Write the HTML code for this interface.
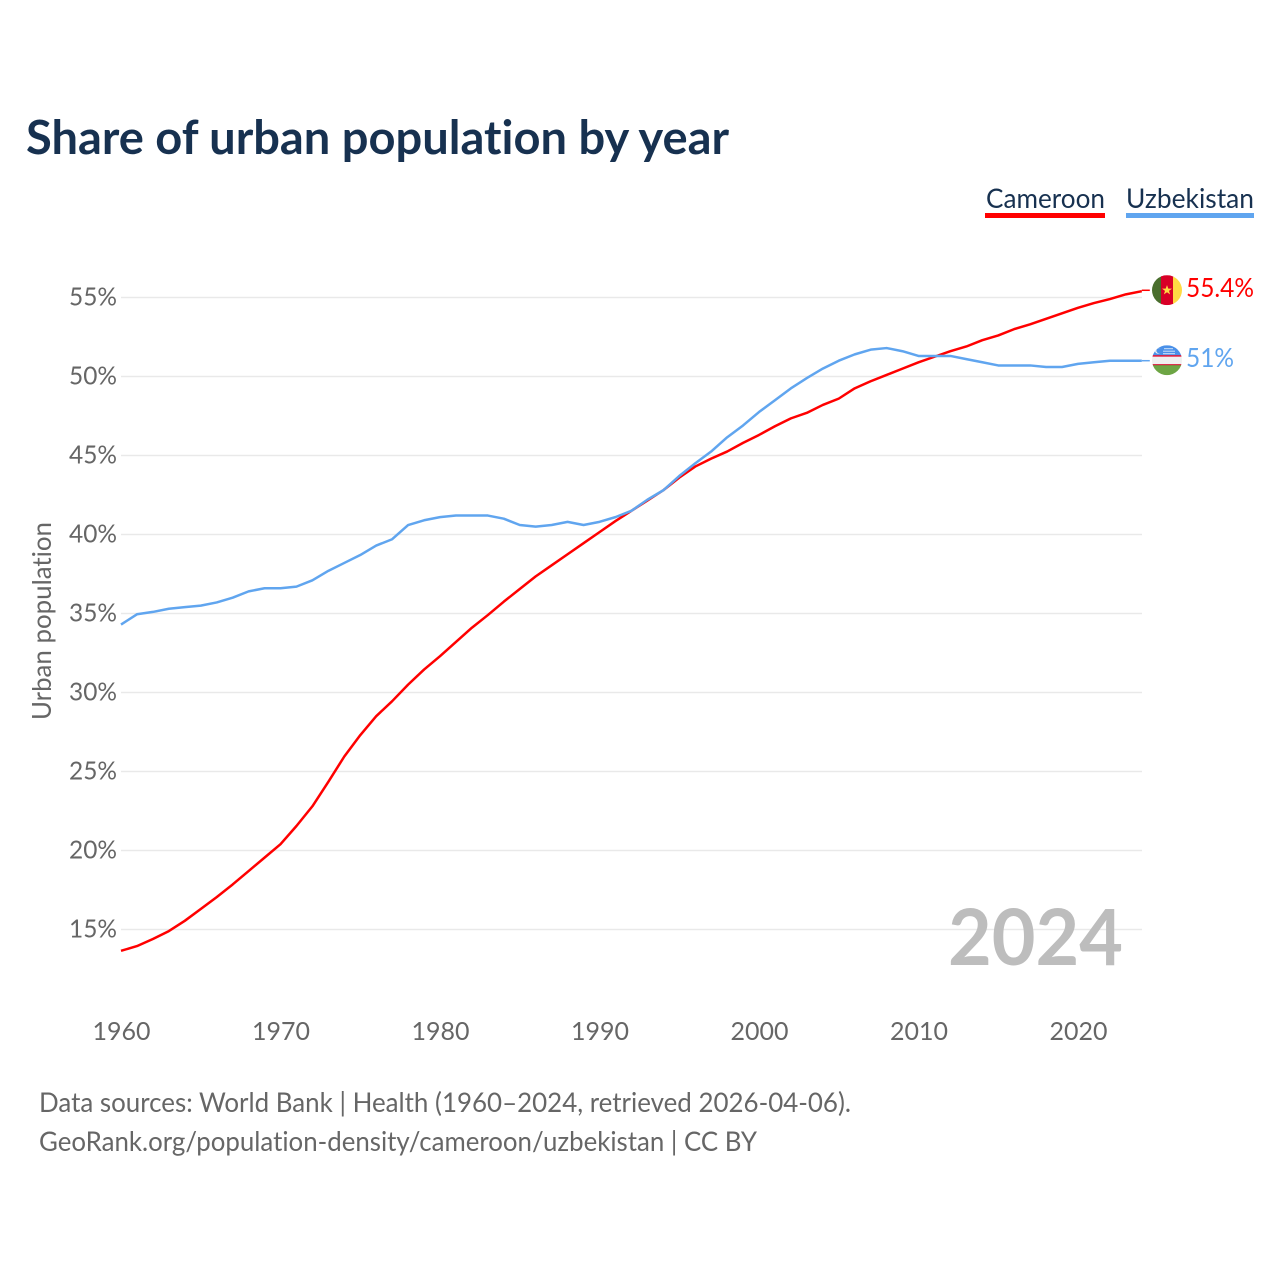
<!DOCTYPE html>
<html lang="en">
<head>
<meta charset="utf-8">
<title>Share of urban population by year</title>
<style>
html,body{margin:0;padding:0;background:#fff;}
svg{display:block;font-family:"Lato","Carlito","Liberation Sans",sans-serif;font-variant-ligatures:none;font-feature-settings:"liga" 0,"clig" 0;}
</style>
</head>
<body>
<svg id="chart" xmlns="http://www.w3.org/2000/svg" width="1280" height="1280" viewBox="0 0 1280 1280">
  <rect width="1280" height="1280" fill="#ffffff"/>
  <text x="26" y="154" font-size="47" font-weight="700" fill="#173150" textLength="703" lengthAdjust="spacingAndGlyphs">Share of urban population by year</text>

  <g>
    <text x="986" y="208" font-size="27" fill="#173150" textLength="119" lengthAdjust="spacingAndGlyphs">Cameroon</text>
    <rect x="985" y="213" width="120" height="5" fill="#ff0000"/>
  </g>
  <g>
    <text x="1126" y="208" font-size="27" fill="#173150" textLength="128" lengthAdjust="spacingAndGlyphs">Uzbekistan</text>
    <rect x="1126" y="213" width="128" height="5" fill="#60a5ef"/>
  </g>

  <g id="grid"></g>
  <g id="yticks"></g>
  <g id="xticks"></g>

  <text transform="translate(51,621) rotate(-90)" text-anchor="middle" font-size="26" fill="#666666" textLength="198" lengthAdjust="spacingAndGlyphs">Urban population</text>

  <text x="948" y="965" font-size="78" font-weight="700" fill="#bdbdbd" textLength="175" lengthAdjust="spacingAndGlyphs">2024</text>

  <g id="series"></g>

  <defs>
    <clipPath id="flag-clip"><circle cx="0" cy="0" r="15"/></clipPath>
  </defs>

  <g id="flag-cameroon">
    <g clip-path="url(#flag-clip)">
      <rect x="-15" y="-15" width="10" height="30" fill="#496e2d"/>
      <rect x="-6" y="-15" width="13" height="30" fill="#d80027"/>
      <rect x="6" y="-15" width="9" height="30" fill="#ffda44"/>
      <polygon points="0,-5 1.3,-1.6 5,-1.6 2,0.7 3.1,4.2 0,2.1 -3.1,4.2 -2,0.7 -5,-1.6 -1.3,-1.6" fill="#ffda44"/>
    </g>
  </g>
  <g id="flag-uzbekistan">
    <g clip-path="url(#flag-clip)">
      <rect x="-15" y="-15" width="30" height="11" fill="#4a90e8"/>
      <rect x="-15" y="-5" width="30" height="10" fill="#f0f0f0"/>
      <rect x="-15" y="-5" width="30" height="1.4" fill="#d80027"/>
      <rect x="-15" y="4" width="30" height="1.4" fill="#d80027"/>
      <rect x="-15" y="5" width="30" height="10" fill="#6da544"/>
      <circle cx="-9" cy="-9.5" r="3" fill="#f0f0f0"/>
      <circle cx="-8" cy="-9.5" r="2.6" fill="#4a90e8"/>
      <rect x="-3" y="-12" width="9" height="1" fill="#cfe2fa"/>
      <rect x="-4" y="-9.5" width="12" height="1" fill="#cfe2fa"/>
      <rect x="-4" y="-7" width="12" height="1" fill="#cfe2fa"/>
    </g>
  </g>

  <text id="value-cameroon" x="1186" y="297" font-size="26" fill="#ff0000" textLength="68" lengthAdjust="spacingAndGlyphs"></text>
  <text id="value-uzbekistan" x="1186" y="367" font-size="26" fill="#60a5ef" textLength="48" lengthAdjust="spacingAndGlyphs"></text>

  <g>
    <text x="39" y="1112" font-size="27" fill="#666666" textLength="812" lengthAdjust="spacingAndGlyphs">Data sources: World Bank | Health (1960–2024, retrieved 2026-04-06).</text>
    <text x="39" y="1151" font-size="27" fill="#666666" textLength="718" lengthAdjust="spacingAndGlyphs">GeoRank.org/population-density/cameroon/uzbekistan | CC BY</text>
  </g>
</svg>
<script>
const firstYear = 1960;
const yTickValues = [15, 20, 25, 30, 35, 40, 45, 50, 55];
const xTickValues = [1960, 1970, 1980, 1990, 2000, 2010, 2020];
const cameroon = [13.65,13.95,14.4,14.9,15.55,16.3,17.05,17.85,18.7,19.55,20.4,21.55,22.8,24.35,25.95,27.3,28.5,29.45,30.5,31.45,32.3,33.2,34.1,34.9,35.75,36.55,37.35,38.05,38.75,39.45,40.15,40.85,41.5,42.15,42.8,43.6,44.3,44.8,45.25,45.8,46.3,46.85,47.35,47.7,48.2,48.6,49.25,49.7,50.1,50.5,50.9,51.25,51.6,51.9,52.3,52.6,53,53.3,53.65,54,54.35,54.65,54.9,55.2,55.4];
const uzbekistan = [34.3,34.95,35.1,35.3,35.4,35.5,35.7,36,36.4,36.6,36.6,36.7,37.1,37.7,38.2,38.7,39.3,39.7,40.6,40.9,41.1,41.2,41.2,41.2,41,40.6,40.5,40.6,40.8,40.6,40.8,41.1,41.5,42.2,42.8,43.7,44.5,45.25,46.15,46.9,47.75,48.5,49.25,49.9,50.5,51,51.4,51.7,51.8,51.6,51.3,51.3,51.3,51.1,50.9,50.7,50.7,50.7,50.6,50.6,50.8,50.9,51,51,51];
const cameroonLabel = "55.4%";
const uzbekistanLabel = "51%";

const NS = "http://www.w3.org/2000/svg";
function xScale(year) { return 121 + (year - 1960) * 15.95; }
function yScale(value) { return 297.5 + (55 - value) * 15.8; }
function make(tag, attrs, parent) {
  const el = document.createElementNS(NS, tag);
  Object.keys(attrs).forEach(function (k) { el.setAttribute(k, attrs[k]); });
  parent.appendChild(el);
  return el;
}

const gridGroup = document.getElementById("grid");
const yTickGroup = document.getElementById("yticks");
const xTickGroup = document.getElementById("xticks");
const seriesGroup = document.getElementById("series");

yTickValues.forEach(function (v) {
  const line = make("line", { x1: 121, x2: 1142, y1: yScale(v), y2: yScale(v), stroke: "#e9e9e9", "stroke-width": 1.5 }, gridGroup);
  
  
  const label = make("text", { x: 117, y: yScale(v) + 8, "text-anchor": "end", "font-size": 25, fill: "#666666", textLength: 48, lengthAdjust: "spacingAndGlyphs" }, yTickGroup);
  
  
  label.textContent = v + "%";
});

xTickValues.forEach(function (year) {
  const label = make("text", { x: xScale(year) + 0.5, y: 1040, "text-anchor": "middle", "font-size": 25, fill: "#666666", textLength: 58, lengthAdjust: "spacingAndGlyphs" }, xTickGroup);
  
  
  label.textContent = year;
});

function pathFor(values) {
  return values.map(function (v, i) {
    return (i ? "L" : "M") + xScale(firstYear + i).toFixed(2) + " " + yScale(v).toFixed(2);
  }).join(" ");
}
function lastYear(values) { return firstYear + values.length - 1; }
function lastValue(values) { return values[values.length - 1]; }

const cameroonLine = make("path", { d: pathFor(cameroon), fill: "none", stroke: "#ff0000", "stroke-width": 2.5, "stroke-linejoin": "round" }, seriesGroup);


const uzbekistanLine = make("path", { d: pathFor(uzbekistan), fill: "none", stroke: "#60a5ef", "stroke-width": 2.5, "stroke-linejoin": "round" }, seriesGroup);



const cameroonLead = make("line", { x1: xScale(lastYear(cameroon)), x2: xScale(lastYear(cameroon)) + 8, y1: yScale(lastValue(cameroon)) - 0.9, y2: yScale(lastValue(cameroon)) - 0.9, stroke: "#ff0000", "stroke-width": 1.5 }, seriesGroup);


const uzbekistanLead = make("line", { x1: xScale(lastYear(uzbekistan)), x2: xScale(lastYear(uzbekistan)) + 8, y1: yScale(lastValue(uzbekistan)), y2: yScale(lastValue(uzbekistan)), stroke: "#60a5ef", "stroke-width": 1.5 }, seriesGroup);



document.getElementById("flag-cameroon").setAttribute("transform", "translate(1167," + (yScale(lastValue(cameroon)) - 1) + ")");
document.getElementById("flag-uzbekistan").setAttribute("transform", "translate(1167," + (yScale(lastValue(uzbekistan)) - 0.5) + ")");
const valueCameroon = document.getElementById("value-cameroon");
valueCameroon.textContent = cameroonLabel;
valueCameroon.setAttribute("y", yScale(lastValue(cameroon)) + 6);
const valueUzbekistan = document.getElementById("value-uzbekistan");
valueUzbekistan.textContent = uzbekistanLabel;
valueUzbekistan.setAttribute("y", yScale(lastValue(uzbekistan)) + 6.5);
</script>
</body>
</html>
